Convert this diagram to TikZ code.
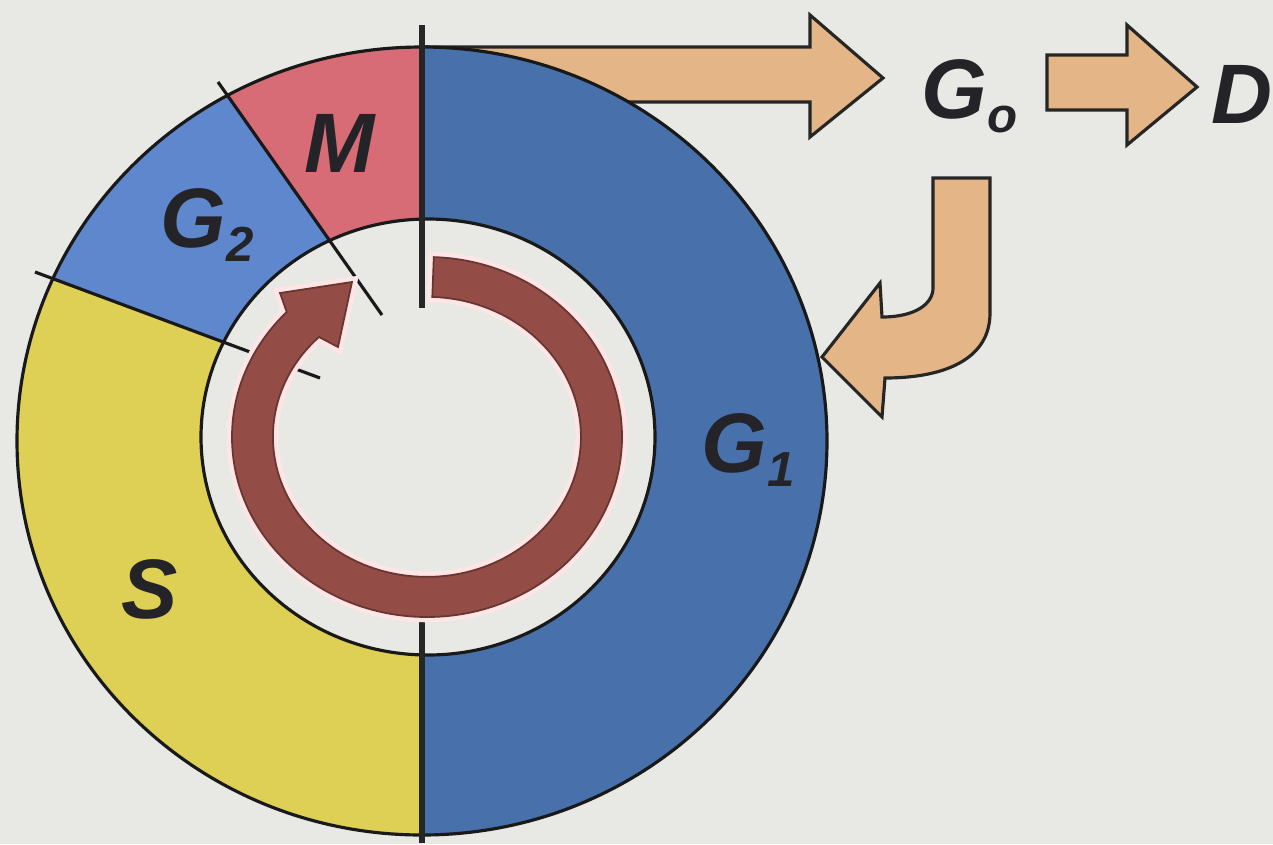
\documentclass[tikz,border=0pt]{standalone}
\usepackage{fontspec}
\setmainfont{Liberation Sans}
\usepackage{xcolor}
\usepackage{tikz}

\definecolor{bgcol}{RGB}{232,232,228}
\definecolor{gonecol}{RGB}{72,112,170}
\definecolor{gtwocol}{RGB}{95,135,205}
\definecolor{mcol}{RGB}{215,108,118}
\definecolor{scol}{RGB}{222,208,85}
\definecolor{ringcol}{RGB}{148,76,70}
\definecolor{tancol}{RGB}{228,182,135}
\definecolor{lblcol}{RGB}{35,35,40}

\newcommand{\phasesub}[1]{\raisebox{-4pt}{\fontsize{14}{14}\selectfont #1}}

\begin{document}
\begin{tikzpicture}[
    x=0.01cm, y=0.01cm,
    lbl/.style={font=\fontsize{24}{24}\selectfont\bfseries\itshape, text=lblcol, inner sep=0pt, anchor=base west},
    blockarrow/.style={fill=tancol, draw=black!85, line width=0.9pt},
    rim/.style={draw=black!90, line width=0.9pt},
    divider/.style={draw=black!90, line width=0.9pt},
    axisline/.style={draw=black!85, line width=1.5pt},
    ring/.style={fill=ringcol, draw=ringcol!70!black, line width=0.5pt, preaction={draw=white!90!red, line width=3pt}},
]
\useasboundingbox (0,0) rectangle (1273,844);
\fill[bgcol] (0,0) rectangle (1273,844);

% Exit arrow (behind the cycle)
\path[blockarrow] (425,797) -- (810,797) -- (810,829) -- (883,766) -- (810,707) -- (810,742) -- (425,742) -- cycle;

% Phases
\begin{scope}
  \clip (422,403) ellipse [x radius=405, y radius=394];
  \fill[gonecol] (0,0) rectangle (1273,844);
  \fill[scol] (422,-60) -- (422,428) -- (-50,604) -- (-50,-60) -- cycle;
  \fill[gtwocol] (-50,604) -- (422,428) -- (422,472) -- (125,894) -- (-50,894) -- cycle;
  \fill[mcol] (125,894) -- (422,472) -- (422,894) -- cycle;
\end{scope}
\draw[rim] (422,403) ellipse [x radius=405, y radius=394];
\filldraw[rim, fill=bgcol] (428,407) ellipse [x radius=227, y radius=218];

% Dividers
\draw[divider] (218,762) -- (382,529);
\draw[divider] (35,572) -- (320,466);
\draw[axisline] (422,819) -- (422,536);
\draw[axisline] (422,227) -- (422,1);

% Cycle arrow
\path[ring] (427,407) ++(88:195 and 180) arc[start angle=88, end angle=-224, x radius=195, y radius=180]
    -- (280,551) -- (352,562) -- (338,497) -- (319,507)
    arc[start angle=-225.5, end angle=88, x radius=154, y radius=140] -- cycle;

% Labels
\node[lbl] (mlabel) at (304,672) {M};
\node[lbl] (gtwolabel) at (160,597) {G\phasesub{2}};
\node[lbl] (gonelabel) at (701,372) {G\phasesub{1}};
\node[lbl] (slabel) at (121,226) {S};
\node[lbl] (gzerolabel) at (921,726) {G\phasesub{o}};
\node[lbl] (dlabel) at (1211,721) {D};

% G0 to D
\path[blockarrow] (1047,789) -- (1127,789) -- (1127,819) -- (1197,757) -- (1127,699) -- (1127,734) -- (1047,734) -- cycle;

% Re-entry from G0
\path[blockarrow] (933,666) -- (990,666) -- (990,531) .. controls (990,485) and (945,466) .. (885,466)
    -- (882,427) -- (822,487) -- (880,561) -- (882,527)
    .. controls (915,527) and (933,540) .. (933,556) -- cycle;
\end{tikzpicture}
\end{document}
